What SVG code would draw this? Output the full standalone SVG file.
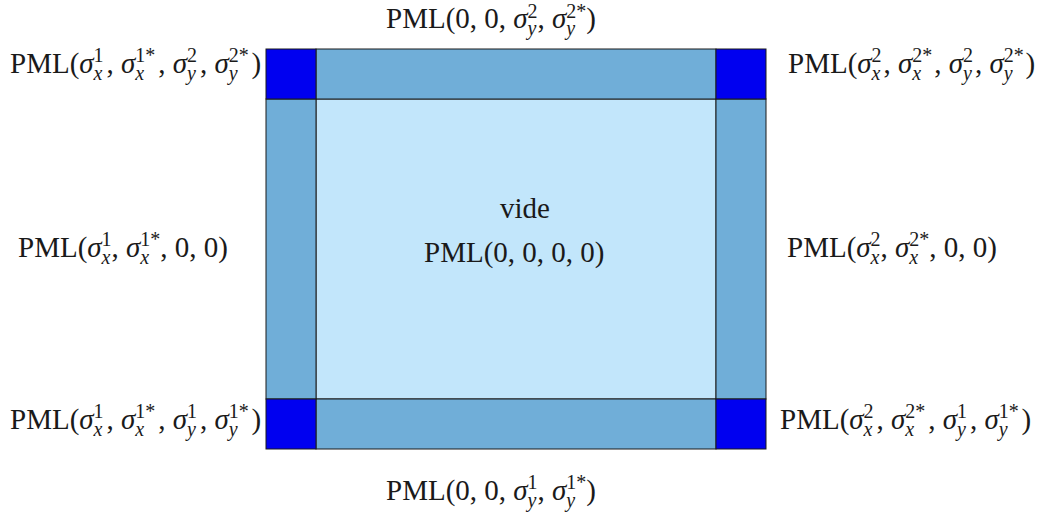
<svg xmlns="http://www.w3.org/2000/svg" width="1038" height="515" viewBox="0 0 1038 515">
<style>
.c{fill:#C2E6FB;stroke:#1a1a1a;stroke-width:1}
.s{fill:#70AED8;stroke:#1a1a1a;stroke-width:1}
.k{fill:#0000F0;stroke:#1a1a1a;stroke-width:1}
text{font-family:"Liberation Serif","DejaVu Serif",serif;font-size:29px;fill:#1a1a1a}
.i{font-style:italic}
.p{font-size:20px}
</style>
<rect width="1038" height="515" fill="#ffffff"/>
<g id="domain">
<rect id="vide" class="c" x="316" y="99" width="400" height="300"/>
<rect id="top" class="s" x="316" y="49" width="400" height="50"/>
<rect id="bottom" class="s" x="316" y="399" width="400" height="50"/>
<rect id="left" class="s" x="266" y="99" width="50" height="300"/>
<rect id="right" class="s" x="716" y="99" width="50" height="300"/>
<rect id="tl" class="k" x="266" y="49" width="50" height="50"/>
<rect id="tr" class="k" x="716" y="49" width="50" height="50"/>
<rect id="bl" class="k" x="266" y="399" width="50" height="50"/>
<rect id="br" class="k" x="716" y="399" width="50" height="50"/>
</g>
<g id="labels">
<text x="500" y="218">vide</text>
<text x="424" y="262">PML(0, 0, 0, 0)</text>

<text x="386" y="28">PML(0, 0, <tspan class="i">σ</tspan><tspan class="p" dy="-10">2</tspan><tspan class="p i" dx="-10" dy="17">y</tspan><tspan dx="1" dy="-7">, </tspan><tspan class="i">σ</tspan><tspan class="p" dy="-10">2*</tspan><tspan class="p i" dx="-20" dy="17">y</tspan><tspan dx="11" dy="-7">)</tspan></text>

<text x="386" y="500">PML(0, 0, <tspan class="i">σ</tspan><tspan class="p" dy="-11">1</tspan><tspan class="p i" dx="-10" dy="18">y</tspan><tspan dx="1" dy="-7">, </tspan><tspan class="i">σ</tspan><tspan class="p" dy="-11">1*</tspan><tspan class="p i" dx="-20" dy="18">y</tspan><tspan dx="11" dy="-7">)</tspan></text>

<text x="10" y="73">PML(<tspan class="i">σ</tspan><tspan class="p" dy="-11">1</tspan><tspan class="p i" dx="-10" dy="18">x</tspan><tspan dx="4" dy="-7">, </tspan><tspan class="i">σ</tspan><tspan class="p" dy="-11">1*</tspan><tspan class="p i" dx="-20" dy="18">x</tspan><tspan dx="14" dy="-7">, </tspan><tspan class="i">σ</tspan><tspan class="p" dy="-11">2</tspan><tspan class="p i" dx="-10" dy="18">y</tspan><tspan dx="4" dy="-7">, </tspan><tspan class="i">σ</tspan><tspan class="p" dy="-11">2*</tspan><tspan class="p i" dx="-20" dy="18">y</tspan><tspan dx="14" dy="-7">)</tspan></text>

<text x="788" y="73">PML(<tspan class="i">σ</tspan><tspan class="p" dy="-11">2</tspan><tspan class="p i" dx="-10" dy="18">x</tspan><tspan dx="3" dy="-7">, </tspan><tspan class="i">σ</tspan><tspan class="p" dy="-11">2*</tspan><tspan class="p i" dx="-20" dy="18">x</tspan><tspan dx="13" dy="-7">, </tspan><tspan class="i">σ</tspan><tspan class="p" dy="-11">2</tspan><tspan class="p i" dx="-10" dy="18">y</tspan><tspan dx="3" dy="-7">, </tspan><tspan class="i">σ</tspan><tspan class="p" dy="-11">2*</tspan><tspan class="p i" dx="-20" dy="18">y</tspan><tspan dx="13" dy="-7">)</tspan></text>

<text x="18" y="257">PML(<tspan class="i">σ</tspan><tspan class="p" dy="-11">1</tspan><tspan class="p i" dx="-10" dy="18">x</tspan><tspan dx="1" dy="-7">, </tspan><tspan class="i">σ</tspan><tspan class="p" dy="-11">1*</tspan><tspan class="p i" dx="-20" dy="18">x</tspan><tspan dx="11" dy="-7">, 0, 0)</tspan></text>

<text x="787" y="257">PML(<tspan class="i">σ</tspan><tspan class="p" dy="-11">2</tspan><tspan class="p i" dx="-10" dy="18">x</tspan><tspan dx="1" dy="-7">, </tspan><tspan class="i">σ</tspan><tspan class="p" dy="-11">2*</tspan><tspan class="p i" dx="-20" dy="18">x</tspan><tspan dx="11" dy="-7">, 0, 0)</tspan></text>

<text x="10" y="429">PML(<tspan class="i">σ</tspan><tspan class="p" dy="-11">1</tspan><tspan class="p i" dx="-10" dy="18">x</tspan><tspan dx="4" dy="-7">, </tspan><tspan class="i">σ</tspan><tspan class="p" dy="-11">1*</tspan><tspan class="p i" dx="-20" dy="18">x</tspan><tspan dx="14" dy="-7">, </tspan><tspan class="i">σ</tspan><tspan class="p" dy="-11">1</tspan><tspan class="p i" dx="-10" dy="18">y</tspan><tspan dx="4" dy="-7">, </tspan><tspan class="i">σ</tspan><tspan class="p" dy="-11">1*</tspan><tspan class="p i" dx="-20" dy="18">y</tspan><tspan dx="14" dy="-7">)</tspan></text>

<text x="780" y="429">PML(<tspan class="i">σ</tspan><tspan class="p" dy="-11">2</tspan><tspan class="p i" dx="-10" dy="18">x</tspan><tspan dx="4" dy="-7">, </tspan><tspan class="i">σ</tspan><tspan class="p" dy="-11">2*</tspan><tspan class="p i" dx="-20" dy="18">x</tspan><tspan dx="14" dy="-7">, </tspan><tspan class="i">σ</tspan><tspan class="p" dy="-11">1</tspan><tspan class="p i" dx="-10" dy="18">y</tspan><tspan dx="4" dy="-7">, </tspan><tspan class="i">σ</tspan><tspan class="p" dy="-11">1*</tspan><tspan class="p i" dx="-20" dy="18">y</tspan><tspan dx="14" dy="-7">)</tspan></text>
</g>
</svg>
